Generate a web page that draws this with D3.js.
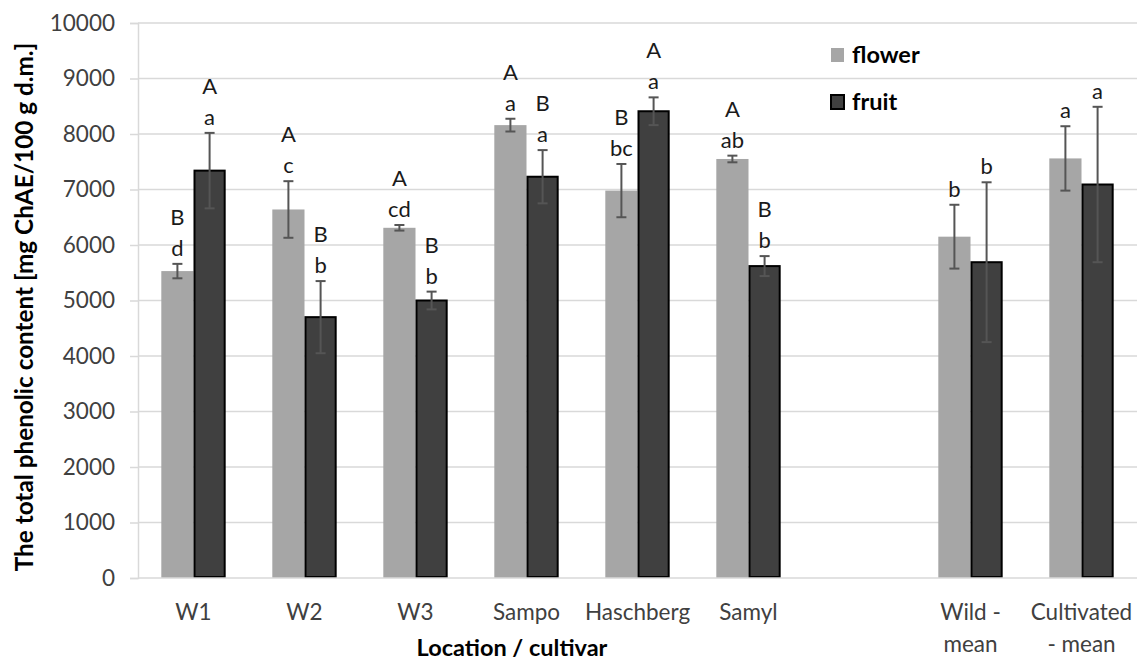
<!DOCTYPE html>
<html>
<head>
<meta charset="utf-8">
<script src="https://cdn.jsdelivr.net/npm/d3@7/dist/d3.min.js"></script>
<style>
  html, body { margin: 0; padding: 0; background: #ffffff; }
  svg { display: block; }
  text { font-family: Lato, "Open Sans", sans-serif; }
</style>
</head>
<body>
<svg id="chart" width="1138" height="664"></svg>
<script>
// Categories along the x axis (the blank entry is the gap before the means)
const categories = ["W1", "W2", "W3", "Sampo", "Haschberg", "Samyl", "", "Wild - mean", "Cultivated - mean"];
const categoryLines = [["W1"], ["W2"], ["W3"], ["Sampo"], ["Haschberg"], ["Samyl"], [""], ["Wild -", "mean"], ["Cultivated", "- mean"]];

// Total phenolic content, mg ChAE/100 g d.m.
const flowerValues = [5530, 6640, 6310, 8160, 6980, 7550, null, 6150, 7560];
const flowerErrors = [130, 510, 50, 115, 480, 60, null, 575, 580];
const fruitValues  = [7340, 4700, 5000, 7230, 8410, 5620, null, 5690, 7090];
const fruitErrors  = [680, 650, 160, 480, 250, 180, null, 1440, 1400];

// Significance letters: lowercase between locations, uppercase flower vs fruit
const flowerLower = ["d", "c", "cd", "a", "bc", "ab", null, "b", "a"];
const flowerUpper = ["B", "A", "A", "A", "B", "A", null, null, null];
const fruitLower  = ["a", "b", "b", "a", "a", "b", null, "b", "a"];
const fruitUpper  = ["A", "B", "B", "B", "A", "B", null, null, null];

const yTicks = [0, 1000, 2000, 3000, 4000, 5000, 6000, 7000, 8000, 9000, 10000];
const seriesNames = ["flower", "fruit"];

const svg = d3.select("#chart");
const plotLeft = 138, plotRight = 1137, plotTop = 23, plotBottom = 578;

const x = d3.scaleBand().domain(categories).range([plotLeft, plotRight]).paddingInner(0.42).paddingOuter(0.21);
const xs = d3.scaleBand().domain(seriesNames).range([0, x.bandwidth()]);
const y = d3.scaleLinear().domain([0, 10000]).range([plotBottom, plotTop]);

const colors = { flower: "#a6a6a6", fruit: "#404040" };

// Horizontal gridlines
svg.append("g")
  .selectAll("line")
  .data(yTicks.filter(d => d > 0))
  .join("line")
  .attr("x1", plotLeft).attr("x2", plotRight)
  .attr("y1", d => y(d)).attr("y2", d => y(d))
  .attr("stroke", "#d9d9d9").attr("stroke-width", 1.5);

// Y axis
const yAxis = svg.append("g")
  .attr("transform", `translate(${plotLeft},0)`)
  .call(d3.axisLeft(y).tickValues(yTicks).tickSize(8).tickPadding(15).tickFormat(d3.format("d")));
yAxis.select(".domain").attr("stroke", "#d9d9d9").attr("stroke-width", 1.5);
yAxis.selectAll(".tick line").attr("stroke", "#d9d9d9").attr("stroke-width", 1.5);
yAxis.selectAll(".tick text")
  .attr("font-family", "Lato, sans-serif").attr("font-size", 22.5).attr("fill", "#404040");

// Rows of bar data built from the arrays
const rows = categories.map((c, i) => ({
  cat: c,
  bars: [
    { s: "flower", v: flowerValues[i], e: flowerErrors[i], lo: flowerLower[i], up: flowerUpper[i] },
    { s: "fruit",  v: fruitValues[i],  e: fruitErrors[i],  lo: fruitLower[i],  up: fruitUpper[i] }
  ].filter(b => b.v !== null)
}));

const groups = svg.append("g").selectAll("g")
  .data(rows)
  .join("g")
  .attr("transform", d => `translate(${x(d.cat)},0)`);

// Bars
groups.selectAll("rect.flower")
  .data(d => d.bars.filter(b => b.s === "flower"))
  .join("rect")
  .attr("x", b => xs(b.s))
  .attr("y", b => y(b.v))
  .attr("width", xs.bandwidth())
  .attr("height", b => y(0) - y(b.v))
  .attr("fill", colors.flower);

groups.selectAll("rect.fruit")
  .data(d => d.bars.filter(b => b.s === "fruit"))
  .join("rect")
  .attr("x", b => xs(b.s) + 1)
  .attr("y", b => y(b.v))
  .attr("width", xs.bandwidth() - 2)
  .attr("height", b => y(0) - y(b.v) - 1)
  .attr("fill", colors.fruit)
  .attr("stroke", "#000000").attr("stroke-width", 2);

// Error bars
const err = groups.selectAll("g.err")
  .data(d => d.bars)
  .join("g")
  .attr("class", "err")
  .attr("stroke", "#555555").attr("stroke-width", 2);
const cx = b => xs(b.s) + xs.bandwidth() / 2;
err.append("line")
  .attr("x1", cx).attr("x2", cx)
  .attr("y1", b => y(b.v + b.e)).attr("y2", b => y(b.v - b.e));
err.append("line")
  .attr("x1", b => cx(b) - 5).attr("x2", b => cx(b) + 5)
  .attr("y1", b => y(b.v + b.e)).attr("y2", b => y(b.v + b.e));
err.append("line")
  .attr("x1", b => cx(b) - 5).attr("x2", b => cx(b) + 5)
  .attr("y1", b => y(b.v - b.e)).attr("y2", b => y(b.v - b.e));

// Significance letters above the error bars
groups.selectAll("text.lo")
  .data(d => d.bars.filter(b => b.lo))
  .join("text")
  .attr("x", cx)
  .attr("y", b => y(b.v + b.e) - 8)
  .attr("text-anchor", "middle")
  .attr("font-size", 22).attr("fill", "#1a1a1a")
  .text(b => b.lo);
groups.selectAll("text.up")
  .data(d => d.bars.filter(b => b.up))
  .join("text")
  .attr("x", cx)
  .attr("y", b => y(b.v + b.e) - 39)
  .attr("text-anchor", "middle")
  .attr("font-size", 22).attr("fill", "#1a1a1a")
  .text(b => b.up);

// X axis line and category labels
svg.append("line")
  .attr("x1", plotLeft).attr("x2", plotRight)
  .attr("y1", plotBottom).attr("y2", plotBottom)
  .attr("stroke", "#d9d9d9").attr("stroke-width", 1.5);

const xLabels = svg.append("g").selectAll("text")
  .data(categories.map((c, i) => ({ c, lines: categoryLines[i] })))
  .join("text")
  .attr("text-anchor", "middle")
  .attr("font-size", 22.5).attr("fill", "#404040");
xLabels.selectAll("tspan")
  .data(d => d.lines.map(l => ({ l, c: d.c })))
  .join("tspan")
  .attr("x", d => x(d.c) + x.bandwidth() / 2)
  .attr("y", (d, i) => plotBottom + 42 + i * 32)
  .text(d => d.l);

// Axis titles
svg.append("text")
  .attr("x", 512)
  .attr("y", 656)
  .attr("text-anchor", "middle")
  .attr("font-size", 23.5).attr("font-weight", "bold").attr("fill", "#000")
  .text("Location / cultivar");

svg.append("text")
  .attr("transform", `translate(33,307) rotate(-90)`)
  .attr("text-anchor", "middle")
  .attr("font-size", 24.3).attr("font-weight", "bold").attr("fill", "#000")
  .text("The total phenolic content [mg ChAE/100 g d.m.]");

// Legend
const legend = svg.append("g").selectAll("g")
  .data(seriesNames)
  .join("g")
  .attr("transform", (d, i) => `translate(831,${48 + i * 47})`);
legend.append("rect")
  .attr("width", 13).attr("height", 14)
  .attr("fill", d => colors[d])
  .attr("stroke", d => d === "fruit" ? "#000" : "none")
  .attr("stroke-width", 2);
legend.append("text")
  .attr("x", 21).attr("y", 15)
  .attr("font-size", 23.5).attr("font-weight", "bold").attr("fill", "#000")
  .text(d => d);
</script>
</body>
</html>
